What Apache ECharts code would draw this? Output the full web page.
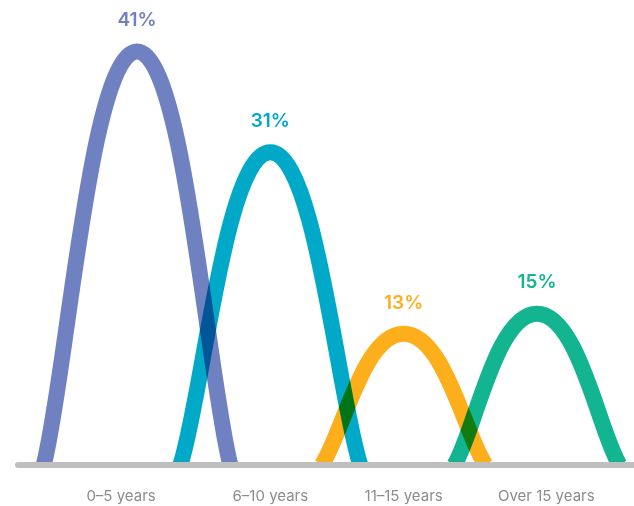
<!DOCTYPE html>
<html>
<head>
<meta charset="utf-8">
<script src="https://cdn.jsdelivr.net/npm/echarts@6/dist/echarts.min.js"></script>
<style>
  html, body { margin: 0; padding: 0; background: #ffffff; }
  #chart { width: 634px; height: 506px; }
</style>
</head>
<body>
<div id="chart"></div>
<script>
// Share of respondents by tenure band
const categories = ['0–5 years', '6–10 years', '11–15 years', 'Over 15 years'];
const shares = [41, 31, 13, 15];

// Styling
const colors = ['#6F81C1', '#00A9C8', '#FCAF1B', '#12B590'];
const halfWidths = [0.70, 0.675, 0.615, 0.62];      // bell half-width, in category units
const labelShift = [-0.12, 0, 0, 0.07];             // nudge of the band names along the axis

const chart = echarts.init(document.getElementById('chart'), null, { renderer: 'canvas' });

const seriesData = shares.map((v, i) => [i, v]);

// Each band is a bell made of two cubic Béziers meeting flat at the peak
function renderBell(params, api) {
  const i = params.dataIndex;
  const c = api.value(0);
  const v = api.value(1);
  const hw = halfWidths[i];
  const left = api.coord([c - hw, 0]);
  const top = api.coord([c, v]);
  const right = api.coord([c + hw, 0]);
  const wL = top[0] - left[0];
  const wR = right[0] - top[0];
  const H = left[1] - top[1];
  const d = [
    'M', left[0], left[1],
    'C', left[0] + 0.25 * wL, left[1] - 0.22 * H,
         top[0] - 0.5 * wL, top[1],
         top[0], top[1],
    'C', top[0] + 0.5 * wR, top[1],
         right[0] - 0.25 * wR, right[1] - 0.22 * H,
         right[0], right[1]
  ].join(' ');
  return {
    type: 'group',
    children: [
      {
        type: 'path',
        shape: { pathData: d },
        style: {
          fill: 'none',
          stroke: colors[i],
          lineWidth: 16,
          lineCap: 'butt'
        }
      },
      {
        type: 'text',
        x: top[0],
        y: top[1] - 31,
        style: {
          text: v + '%',
          fill: colors[i],
          align: 'center',
          verticalAlign: 'middle',
          font: '600 19px Inter, "Noto Sans", sans-serif'
        }
      }
    ]
  };
}

const option = {
  animation: false,
  grid: { left: 18, right: 0, top: 1, bottom: 41, containLabel: false },
  xAxis: {
    type: 'value',
    min: -0.893,
    max: 3.728,
    z: 10,
    splitLine: { show: false },
    axisTick: { show: false },
    axisLine: {
      show: true,
      onZero: false,
      lineStyle: { color: '#BFBFBF', width: 6, cap: 'round' }
    },
    axisLabel: {
      show: true,
      customValues: categories.map((_, i) => i + labelShift[i]),
      formatter: (val) => {
        const idx = labelShift.findIndex((s, i) => Math.abs(i + s - val) < 1e-6);
        return idx >= 0 ? categories[idx] : '';
      },
      color: '#8C8C8C',
      fontSize: 15,
      fontFamily: 'Inter, "Noto Sans", sans-serif',
      margin: 24
    }
  },
  yAxis: {
    type: 'value',
    min: 0,
    max: 46,
    show: false
  },
  series: [{
    type: 'custom',
    clip: true,
    blendMode: 'multiply',
    renderItem: renderBell,
    data: seriesData
  }]
};

chart.setOption(option);
</script>
</body>
</html>
